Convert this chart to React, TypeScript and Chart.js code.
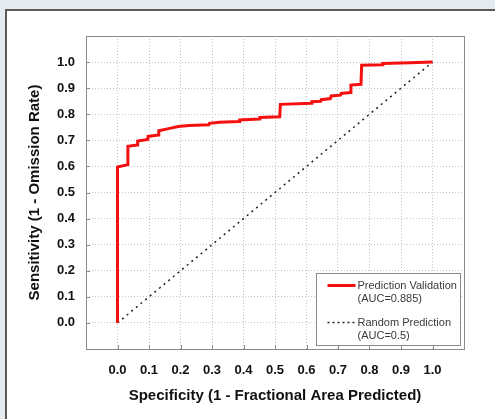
import React, { useEffect, useRef } from 'react';
import { Chart, registerables } from 'chart.js';

Chart.register(...registerables);

// ROC curve: false positive rate (1 - specificity) and true positive rate (sensitivity)
const ROC_FPR = [
  0.0, 0.0, 0.033, 0.033, 0.062, 0.064, 0.096, 0.097, 0.13, 0.131, 0.162, 0.193, 0.227, 0.29,
  0.292, 0.323, 0.386, 0.388, 0.45, 0.452, 0.515, 0.517, 0.615, 0.617, 0.645, 0.647, 0.676,
  0.678, 0.708, 0.71, 0.739, 0.741, 0.773, 0.775, 0.84, 0.842, 0.93, 1.0,
];
const ROC_TPR = [
  0.0, 0.598, 0.607, 0.677, 0.682, 0.697, 0.703, 0.715, 0.72, 0.737, 0.745, 0.753, 0.757, 0.76,
  0.765, 0.769, 0.772, 0.778, 0.782, 0.788, 0.79, 0.838, 0.842, 0.848, 0.85, 0.856, 0.86,
  0.87, 0.873, 0.88, 0.883, 0.912, 0.915, 0.988, 0.99, 0.995, 0.997, 1.0,
];
const RANDOM_FPR = [0.0, 1.0];
const RANDOM_TPR = [0.0, 1.0];

const TICK_VALUES = [-0.1, 0.0, 0.1, 0.2, 0.3, 0.4, 0.5, 0.6, 0.7, 0.8, 0.9, 1.0, 1.1];
const TICK_LABELS = ['', '0.0', '0.1', '0.2', '0.3', '0.4', '0.5', '0.6', '0.7', '0.8', '0.9', '1.0', ''];

const SERIES_NAMES = ['Prediction Validation', 'Random Prediction'];
const SERIES_AUC = ['(AUC=0.885)', '(AUC=0.5)'];

const X_TITLE = 'Specificity (1 - Fractional Area Predicted)';
const Y_TITLE = 'Sensitivity (1 - Omission Rate)';

const FONT = '"Liberation Sans", Arial, Helvetica, sans-serif';
const RED = '#f51010';

const framePlugin = {
  id: 'frameAndTicks',
  afterDatasetsDraw(chart: any) {
    const { ctx, chartArea } = chart;
    const { left, right, top, bottom } = chartArea;
    const xs = chart.scales.x;
    const ys = chart.scales.y;
    ctx.save();
    ctx.strokeStyle = '#8a8a8a';
    ctx.lineWidth = 1;
    ctx.setLineDash([]);
    ctx.beginPath();
    TICK_VALUES.forEach((v) => {
      const py = Math.round(ys.getPixelForValue(v)) + 0.5;
      ctx.moveTo(left, py);
      ctx.lineTo(left + 4, py);
      const px = Math.round(xs.getPixelForValue(v)) + 0.5;
      ctx.moveTo(px, bottom);
      ctx.lineTo(px, bottom - 4);
    });
    ctx.stroke();
    ctx.strokeRect(Math.round(left) + 0.5, Math.round(top) + 0.5, Math.round(right - left), Math.round(bottom - top));
    ctx.restore();
  },
};

const legendPlugin = {
  id: 'rocLegend',
  afterDraw(chart: any) {
    const { ctx, chartArea } = chart;
    const w = 144;
    const h = 72;
    const bx = Math.round(chartArea.right - 4 - w) + 0.5;
    const by = Math.round(chartArea.bottom - 4 - h) + 0.5;
    ctx.save();
    ctx.fillStyle = '#ffffff';
    ctx.fillRect(bx, by, w, h);
    ctx.strokeStyle = '#8a8a8a';
    ctx.lineWidth = 1;
    ctx.strokeRect(bx, by, w, h);
    const datasets = chart.data.datasets;
    const rows = [12, 49];
    datasets.forEach((ds: any, i: number) => {
      const ly = by + rows[i];
      ctx.beginPath();
      ctx.strokeStyle = ds.borderColor;
      ctx.lineWidth = i === 0 ? 3 : 1.5;
      ctx.setLineDash(i === 0 ? [] : [2, 3]);
      ctx.moveTo(bx + 11, ly);
      ctx.lineTo(bx + 39, ly);
      ctx.stroke();
      ctx.setLineDash([]);
      ctx.fillStyle = '#3a3a3a';
      ctx.font = `11px ${FONT}`;
      ctx.textAlign = 'left';
      ctx.textBaseline = 'middle';
      ctx.fillText(ds.label, bx + 41, ly);
      ctx.fillText(SERIES_AUC[i], bx + 41, ly + 13);
    });
    ctx.restore();
  },
};

export default function App() {
  const canvasRef = useRef<HTMLCanvasElement | null>(null);

  useEffect(() => {
    const canvas = canvasRef.current;
    if (!canvas) return;
    const chart = new Chart(canvas, {
      type: 'line',
      data: {
        datasets: [
          {
            label: SERIES_NAMES[0],
            data: ROC_FPR.map((x, i) => ({ x, y: ROC_TPR[i] })),
            borderColor: RED,
            borderWidth: 3,
            pointRadius: 0,
            tension: 0,
            fill: false,
          },
          {
            label: SERIES_NAMES[1],
            data: RANDOM_FPR.map((x, i) => ({ x, y: RANDOM_TPR[i] })),
            borderColor: '#222222',
            borderWidth: 1.5,
            borderDash: [2, 4],
            pointRadius: 0,
            tension: 0,
            fill: false,
          },
        ],
      },
      options: {
        animation: false,
        responsive: false,
        maintainAspectRatio: false,
        layout: { padding: { top: 36, right: 31, left: 0, bottom: 0 } },
        plugins: {
          legend: { display: false },
          tooltip: { enabled: false },
        },
        scales: {
          x: {
            type: 'linear',
            min: -0.1,
            max: 1.1,
            afterBuildTicks: (scale: any) => {
              scale.ticks = TICK_VALUES.map((v) => ({ value: v }));
            },
            afterFit: (scale: any) => {
              scale.height = 70;
            },
            grid: {
              color: '#c4c4c4',
              lineWidth: 1,
              drawTicks: false,
            },
            border: { display: false, dash: [1, 2] },
            ticks: {
              padding: 14,
              color: '#111111',
              maxRotation: 0,
              autoSkip: false,
              font: { family: FONT, size: 13, weight: 'bold' },
              callback: (_v: any, i: number) => TICK_LABELS[i],
            },
            title: {
              display: true,
              text: X_TITLE,
              color: '#111111',
              font: { family: FONT, size: 15, weight: 'bold' },
              padding: { top: 0, bottom: 14 },
            },
          },
          y: {
            type: 'linear',
            min: -0.1,
            max: 1.1,
            afterBuildTicks: (scale: any) => {
              scale.ticks = TICK_VALUES.map((v) => ({ value: v }));
            },
            afterFit: (scale: any) => {
              scale.width = 86;
            },
            grid: {
              color: '#c4c4c4',
              lineWidth: 1,
              drawTicks: false,
            },
            border: { display: false, dash: [1, 2] },
            ticks: {
              padding: 11,
              color: '#111111',
              autoSkip: false,
              font: { family: FONT, size: 13, weight: 'bold' },
              callback: (_v: any, i: number) => TICK_LABELS[i],
            },
            title: {
              display: true,
              text: Y_TITLE,
              color: '#111111',
              font: { family: FONT, size: 15, weight: 'bold' },
              padding: { top: 26, bottom: 0 },
            },
          },
        },
      },
      plugins: [framePlugin, legendPlugin],
    } as any);
    return () => chart.destroy();
  }, []);

  return (
    <div
      style={{
        position: 'fixed',
        left: 0,
        top: 0,
        width: 495,
        height: 419,
        background: '#e4ebf1',
        overflow: 'hidden',
      }}
    >
      <div
        style={{
          position: 'absolute',
          left: 5,
          top: 9,
          width: 500,
          height: 420,
          background: '#ffffff',
          borderLeft: '2px solid #5a5a5a',
          borderTop: '2px solid #5a5a5a',
        }}
      />
      <canvas
        ref={canvasRef}
        width={495}
        height={419}
        style={{ position: 'absolute', left: 0, top: 0, width: 495, height: 419 }}
      />
    </div>
  );
}
